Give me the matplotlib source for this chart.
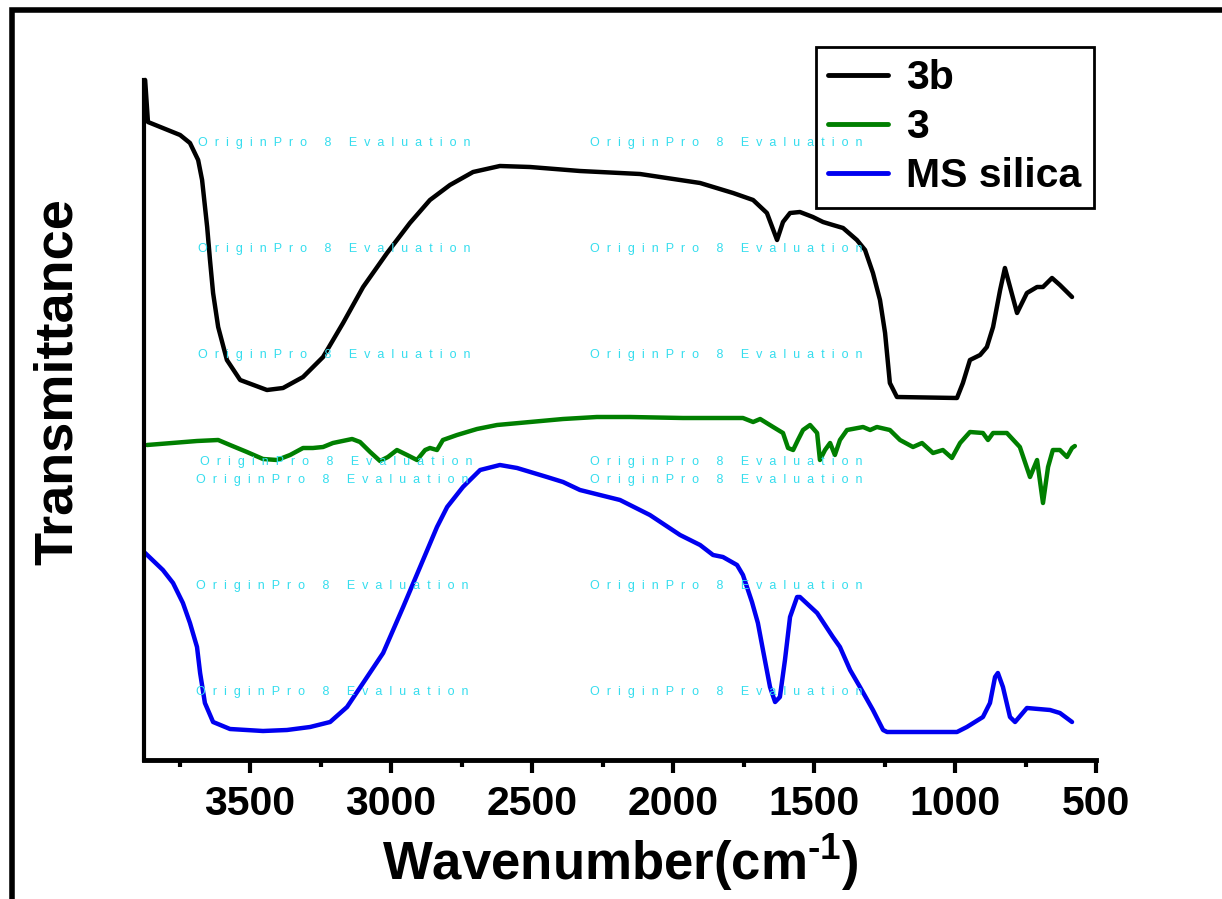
import matplotlib
matplotlib.use("Agg")
import matplotlib.pyplot as plt
from matplotlib.lines import Line2D
from matplotlib.ticker import MultipleLocator

plt.rcParams["font.family"] = ["Liberation Sans", "DejaVu Sans"]
plt.rcParams["font.weight"] = "bold"
plt.rcParams["mathtext.fontset"] = "custom"
plt.rcParams["mathtext.rm"] = "Liberation Sans:bold"
plt.rcParams["mathtext.bf"] = "Liberation Sans:bold"

# FTIR spectra, transmittance in arbitrary units (offset traces)
wn_3b = [3872, 3862, 3748, 3713, 3684, 3670, 3652, 3642, 3631, 3613, 3582, 3535,
         3440, 3383, 3312, 3241, 3170, 3099, 3014, 2933, 2862, 2791, 2709, 2614,
         2507, 2330, 2117, 1904, 1787, 1716, 1667, 1631, 1610, 1585, 1550, 1504,
         1468, 1433, 1397, 1348, 1319, 1291, 1266, 1248, 1231, 1206, 993, 972,
         947, 911, 887, 865, 840, 823, 780, 745, 709, 688, 656, 628, 585]
t_3b = [680, 638, 625, 617, 600, 580, 533, 500, 467, 433, 400, 380,
        370, 372, 383, 403, 437, 473, 507, 537, 560, 575, 588, 594,
        593, 589, 586, 577, 567, 560, 547, 520, 538, 547, 548, 543,
        538, 535, 532, 520, 510, 487, 460, 427, 377, 363, 362, 377,
        400, 405, 413, 433, 470, 492, 447, 467, 473, 473, 482, 475, 463]

wn_3 = [3865, 3688, 3613, 3571, 3511, 3454, 3404, 3358, 3312, 3277, 3241, 3206,
        3138, 3110, 3074, 3039, 3011, 2979, 2943, 2908, 2879, 2862, 2837, 2816,
        2766, 2695, 2624, 2507, 2390, 2270, 2153, 1965, 1752, 1716, 1691, 1645,
        1610, 1592, 1574, 1557, 1539, 1514, 1489, 1479, 1461, 1443, 1426, 1408,
        1383, 1326, 1301, 1277, 1231, 1195, 1149, 1117, 1078, 1043, 1011, 982,
        947, 901, 883, 865, 816, 770, 734, 709, 688, 670, 653, 628, 603, 585, 575]
t_3 = [315, 319, 320, 315, 308, 301, 300, 305, 312, 312, 313, 317,
       321, 318, 308, 299, 303, 310, 305, 300, 310, 312, 310, 320,
       325, 331, 335, 338, 341, 343, 343, 342, 342, 338, 341, 333,
       327, 312, 310, 320, 330, 335, 327, 300, 310, 317, 305, 320,
       330, 333, 330, 333, 330, 320, 313, 317, 307, 310, 302, 317,
       328, 327, 320, 327, 327, 313, 283, 300, 257, 293, 310, 310, 303, 312, 314]

wn_ms = [3872, 3809, 3773, 3738, 3713, 3688, 3677, 3660, 3631, 3571, 3454, 3369,
         3287, 3216, 3156, 3099, 3028, 2957, 2897, 2837, 2801, 2745, 2684, 2614,
         2553, 2447, 2390, 2330, 2188, 2082, 1975, 1904, 1858, 1823, 1773, 1752,
         1720, 1699, 1681, 1656, 1638, 1621, 1603, 1585, 1560, 1550, 1489, 1433,
         1408, 1372, 1337, 1291, 1255, 1241, 993, 958, 901, 876, 858, 848,
         830, 805, 787, 745, 663, 628, 585]
t_ms = [207, 190, 177, 157, 137, 113, 87, 57, 38, 31, 29, 30,
        33, 38, 53, 77, 107, 153, 193, 233, 253, 273, 290, 295,
        292, 283, 278, 270, 260, 245, 225, 215, 205, 203, 195, 185,
        158, 137, 110, 73, 58, 63, 100, 143, 163, 163, 147, 123,
        113, 90, 73, 50, 30, 28, 28, 33, 43, 57, 83, 87,
        73, 43, 38, 52, 50, 47, 38]

labels = ["3b", "3", "MS silica"]
colors = ["black", "#007F00", "#0000F0"]

W, H = 1222, 899
fig = plt.figure(figsize=(W / 100, H / 100), dpi=100)
ax = fig.add_axes([144 / W, 139 / H, 952 / W, 680 / H])

for wn, t, lab, c in zip([wn_3b, wn_3, wn_ms], [t_3b, t_3, t_ms], labels, colors):
    ax.plot(wn, t, color=c, lw=3.2, label=lab, clip_on=False,
            solid_joinstyle="round", solid_capstyle="round")

ax.set_xlim(3876, 500)
ax.set_ylim(0, 680)
ax.xaxis.set_major_locator(MultipleLocator(500))
ax.xaxis.set_minor_locator(MultipleLocator(250))
ax.set_yticks([])
for s in ["top", "right"]:
    ax.spines[s].set_visible(False)
ax.spines["left"].set_linewidth(3)
ax.spines["bottom"].set_linewidth(3.5)
ax.tick_params(axis="x", which="major", length=9, width=3, pad=9,
               labelsize=29.5, direction="out")
ax.tick_params(axis="x", which="minor", length=5, width=3, direction="out")
for lbl in ax.get_xticklabels():
    lbl.set_fontweight("bold")

ax.set_xlabel(r"Wavenumber(cm$^{\text{-1}}$)", fontsize=38, fontweight="bold")
ax.xaxis.set_label_coords(0.5, -0.106)
ax.set_ylabel("Transmittance", fontsize=39, fontweight="bold")
ax.yaxis.set_label_coords(-0.064, 0.557)

leg = ax.legend(loc="upper left", bbox_to_anchor=(816 / W, 1 - 47 / H),
                bbox_transform=fig.transFigure, borderaxespad=0,
                prop={"size": 29.5, "weight": "bold"}, handlelength=1.45,
                handletextpad=0.45, labelspacing=0.27, borderpad=0.3,
                fancybox=False, framealpha=1, edgecolor="black")
leg.get_frame().set_linewidth(2)
for h in leg.get_lines():
    h.set_linewidth(3.5)

# evaluation watermark
wm = "  ".join("OriginPro") + "     8     " + "  ".join("Evaluation")
rows = [(198, 143), (590, 143), (198, 249), (590, 249), (198, 355), (590, 355),
        (200, 462), (590, 462), (196, 480), (590, 480), (196, 586), (590, 586),
        (196, 692), (590, 692)]
for x0, y0 in rows:
    fig.text(x0 / W, 1 - y0 / H, wm, fontsize=9, color="#35DDEE",
             fontweight="normal", ha="left", va="center")

# outer frame
fig.add_artist(Line2D([12 / W, 12 / W, 1], [0, 1 - 10 / H, 1 - 10 / H],
                      transform=fig.transFigure, color="black", lw=4,
                      solid_joinstyle="miter"))

fig.savefig("out.png", dpi=100)
